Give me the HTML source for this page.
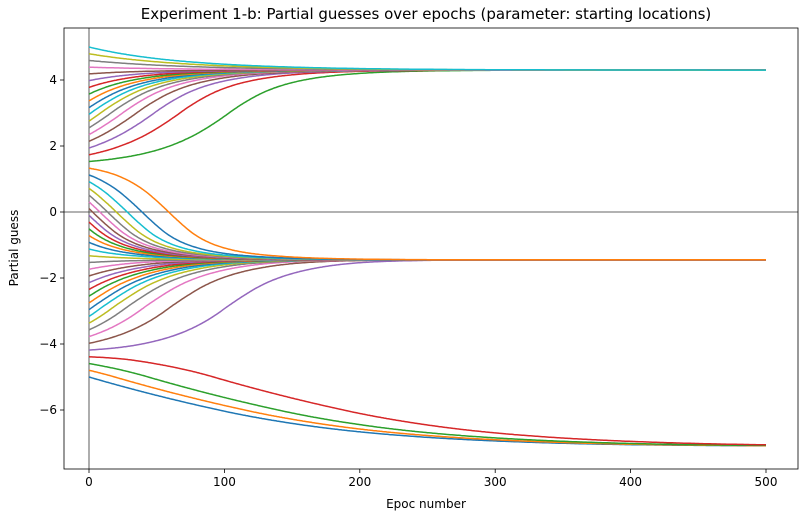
<!DOCTYPE html>
<html><head><meta charset="utf-8"><style>
body{margin:0;background:#fff;font-family:"Liberation Sans","DejaVu Sans",sans-serif}
svg text{font-family:"DejaVu Sans","Liberation Sans",sans-serif}
</style></head><body>
<svg id="chart" width="806" height="519" xmlns="http://www.w3.org/2000/svg">
<rect x="0" y="0" width="806" height="519" fill="#fff"/>
<text x="426" y="19" font-size="15" text-anchor="middle">Experiment 1-b: Partial guesses over epochs (parameter: starting locations)</text>
<g id="plot"></g>
<text x="426" y="508" font-size="12" text-anchor="middle">Epoc number</text>
<text transform="translate(18,248) rotate(-90)" font-size="12" text-anchor="middle">Partial guess</text>
</svg>
<script>
// Starting locations: 50 values evenly spaced from -5 to 5
const startCount = 50;
const startMin = -5, startMax = 5;
// Tabulated velocity field (change per epoch) read from the trajectories
const fieldX = [-7.6,-7.1,-7.0,-6.5,-6.0,-5.0,-4.5,-4.4,-4.3,-4.2,-4.0,-3.5,-3.0,-2.4,-2.0,-1.6,-1.45,-1.3,-1.0,-0.5,0.0,0.5,1.0,1.3,1.43,1.55,2.0,2.5,3.0,3.5,4.0,4.3,4.6,5.0,5.5];
const fieldV = [0.005,0,-0.0012,-0.0055,-0.009,-0.012,-0.006,-0.002,0,0.002,0.008,0.02,0.03,0.025,0.015,0.005,0,-0.004,-0.015,-0.035,-0.04,-0.035,-0.02,-0.008,0,0.004,0.015,0.025,0.03,0.022,0.008,0,-0.004,-0.01,-0.016];
const epochs = 500;
const xTicks = [0,100,200,300,400,500];
const yTicks = [-6,-4,-2,0,2,4];
const colors = ["#1f77b4","#ff7f0e","#2ca02c","#d62728","#9467bd","#8c564b","#e377c2","#7f7f7f","#bcbd22","#17becf"];

const L=64,R=798,T=28,B=469;
const xS=v=>89+v*(766-89)/500;
const yS=v=>212-v*33;
const NS="http://www.w3.org/2000/svg";
const g=document.getElementById('plot');
function el(t,a){const e=document.createElementNS(NS,t);for(const k in a)e.setAttribute(k,a[k]);return e;}
function vel(x){
  if(x<=fieldX[0])return fieldV[0];
  for(let i=1;i<fieldX.length;i++){if(x<=fieldX[i]){const f=(x-fieldX[i-1])/(fieldX[i]-fieldX[i-1]);return fieldV[i-1]+f*(fieldV[i]-fieldV[i-1]);}}
  return fieldV[fieldV.length-1];
}
const clip=el('clipPath',{id:'c'});clip.appendChild(el('rect',{x:L,y:T,width:R-L,height:B-T}));g.appendChild(clip);
const zx=el('line',{x1:L,x2:R,y1:yS(0),y2:yS(0),stroke:'#333','stroke-width':0.8});
g.appendChild(zx);
const zy=el('line',{x1:xS(0),x2:xS(0),y1:T,y2:B,stroke:'#333','stroke-width':0.8});
g.appendChild(zy);
for(let i=0;i<startCount;i++){
  let x=startMin+i*(startMax-startMin)/(startCount-1);
  let d='M'+xS(0).toFixed(1)+','+yS(x).toFixed(1);
  for(let e=1;e<=epochs;e++){for(let s=0;s<4;s++)x+=vel(x)/4;d+='L'+xS(e).toFixed(1)+','+yS(x).toFixed(1);}
  const p=el('path',{d:d,fill:'none',stroke:colors[i%10],'stroke-width':1.5,'clip-path':'url(#c)'});
  
  
  g.appendChild(p);
}
const fr=el('rect',{x:L,y:T,width:R-L,height:B-T,fill:'none',stroke:'#000','stroke-width':0.8});
g.appendChild(fr);
xTicks.forEach(v=>{
  g.appendChild(el('line',{x1:xS(v),x2:xS(v),y1:B,y2:B+4,stroke:'#000','stroke-width':0.8}));
  const t=el('text',{x:xS(v),y:B+17,'font-size':12,'text-anchor':'middle'});t.textContent=v;
  g.appendChild(t);
});
yTicks.forEach(v=>{
  g.appendChild(el('line',{x1:L-4,x2:L,y1:yS(v),y2:yS(v),stroke:'#000','stroke-width':0.8}));
  const t=el('text',{x:L-7,y:yS(v)+4,'font-size':12,'text-anchor':'end'});t.textContent=v<0?'\u2212'+(-v):v;
  g.appendChild(t);
});
</script>
</body></html>
